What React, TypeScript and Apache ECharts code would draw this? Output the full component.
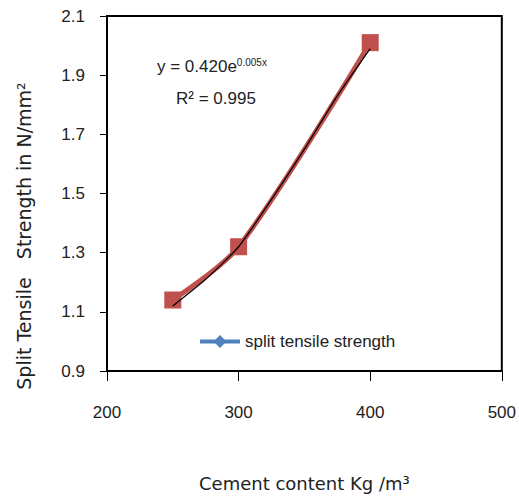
import React, { useEffect, useRef } from "react";
import * as echarts from "echarts";

const cementContent = [250, 300, 400];
const splitTensile = [1.14, 1.32, 2.01];
const trendX = [250, 275, 300, 325, 350, 375, 400];
const trendY = [1.12, 1.21, 1.32, 1.48, 1.65, 1.83, 1.99];
const xTicks = [200, 300, 400, 500];
const yTicks = [0.9, 1.1, 1.3, 1.5, 1.7, 1.9, 2.1];

const FONT = "'Liberation Sans', Arial, sans-serif";
const TITLE_FONT = "'DejaVu Sans', sans-serif";

export default function App() {
  const ref = useRef<HTMLDivElement>(null);
  useEffect(() => {
    document.body.style.margin = "0";
    const chart = echarts.init(ref.current!, null, { renderer: "svg" });
    chart.setOption({
      animation: false,
      backgroundColor: "#ffffff",
      textStyle: { fontFamily: FONT },
      grid: {
        left: 107,
        right: 16,
        top: 16,
        bottom: 129,
        show: true,
        borderColor: "#000",
        borderWidth: 2,
      },
      xAxis: {
        type: "value",
        min: xTicks[0],
        max: xTicks[xTicks.length - 1],
        interval: 100,
        name: "Cement content Kg /m³",
        nameLocation: "middle",
        nameGap: 103,
        nameTextStyle: { fontSize: 18, color: "#222", fontFamily: TITLE_FONT },
        axisLine: { show: true, lineStyle: { color: "#000", width: 1 } },
        axisTick: { show: true, length: 10, lineStyle: { color: "#000" } },
        axisLabel: { margin: 33, fontSize: 17, color: "#222", fontFamily: FONT },
        splitLine: { show: false },
      },
      yAxis: {
        type: "value",
        min: yTicks[0],
        max: yTicks[yTicks.length - 1],
        interval: 0.2,
        axisLine: { show: true, lineStyle: { color: "#000", width: 1 } },
        axisTick: { show: true, length: 7, lineStyle: { color: "#000" } },
        axisLabel: {
          margin: 22,
          fontSize: 17,
          color: "#222",
          fontFamily: FONT,
          formatter: (v: number) => v.toFixed(1),
        },
        splitLine: { show: false },
      },
      legend: {
        show: true,
        left: 193,
        top: 328,
        itemWidth: 40,
        itemHeight: 16,
        lineStyle: { width: 4 },
        textStyle: { fontSize: 17, color: "#222", fontFamily: FONT },
        data: ["split tensile strength"],
      },
      series: [
        {
          name: "split tensile strength",
          type: "line",
          data: [],
          symbol: "diamond",
          symbolSize: 14,
          itemStyle: { color: "#4f81bd" },
          lineStyle: { color: "#4f81bd", width: 4 },
        },
        {
          name: "data",
          type: "line",
          data: cementContent.map((x, i) => [x, splitTensile[i]]),
          smooth: 0.3,
          symbol: "rect",
          symbolSize: 17,
          itemStyle: { color: "#c0504d" },
          lineStyle: { color: "#c0504d", width: 5 },
          z: 2,
        },
        {
          name: "trend",
          type: "line",
          data: trendX.map((x, i) => [x, trendY[i]]),
          smooth: 0.2,
          symbol: "none",
          lineStyle: { color: "#000", width: 1.2 },
          z: 3,
        },
      ],
      graphic: [
        {
          type: "text",
          x: 24,
          y: 236,
          rotation: Math.PI / 2,
          style: {
            text: "Split Tensile   Strength in N/mm²",
            fontSize: 19,
            fill: "#222",
            fontFamily: TITLE_FONT,
            align: "center",
            verticalAlign: "middle",
          },
        },
        {
          type: "text",
          left: 157,
          top: 57,
          style: {
            text: "{a|y = 0.420e}{b|0.005x}",
            rich: {
              a: { fontSize: 17, fill: "#222", fontFamily: FONT },
              b: { fontSize: 10, fill: "#222", fontFamily: FONT, verticalAlign: "top", padding: [0, 0, 9, 0] },
            },
          },
        },
        {
          type: "text",
          left: 176,
          top: 90,
          style: {
            text: "R² = 0.995",
            fontSize: 17,
            fill: "#222",
            fontFamily: FONT,
          },
        },
      ],
    });
    return () => chart.dispose();
  }, []);
  return <div ref={ref} style={{ width: 519, height: 500 }} />;
}
